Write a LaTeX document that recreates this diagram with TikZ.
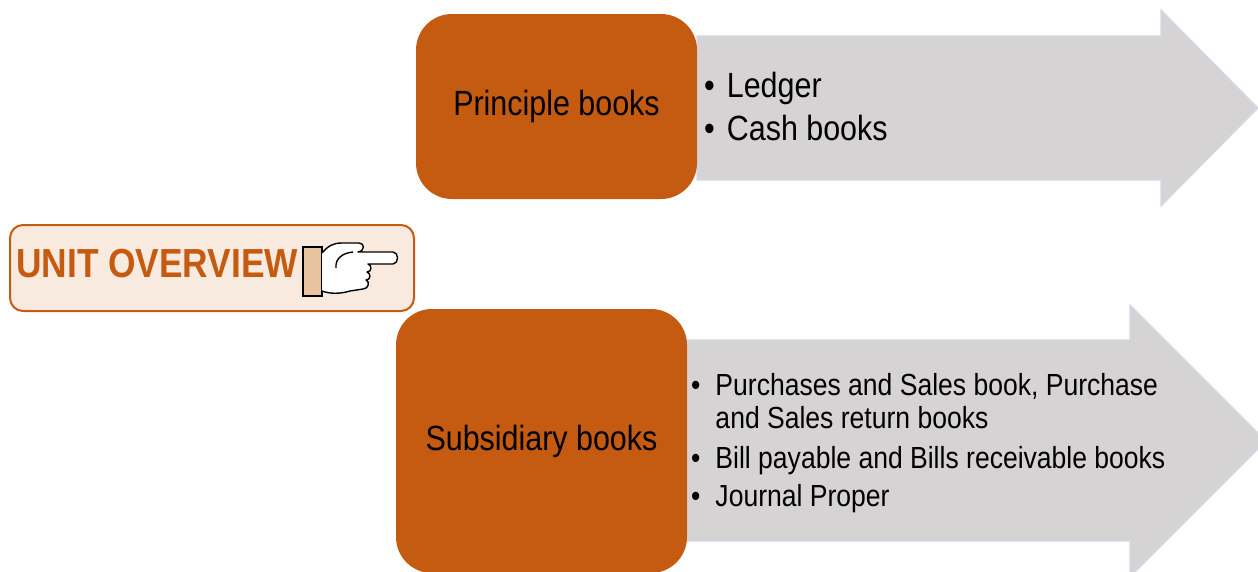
\documentclass[tikz,border=0pt]{standalone}
\usepackage{fontspec}
\setmainfont[FakeStretch=0.87]{Liberation Sans}
\usetikzlibrary{positioning}
\definecolor{rust}{HTML}{C55A11}
\definecolor{peach}{HTML}{F9EADF}
\definecolor{cuff}{HTML}{E8C3A0}
\definecolor{arrowgrey}{HTML}{D5D3D4}
\definecolor{arrowedge}{HTML}{D3D9EA}
\tikzset{
  bookbox/.style={fill=rust, rounded corners=36pt, inner sep=0pt,
    font=\fontsize{35}{42}\selectfont},
  bigarrow/.style={fill=arrowgrey, draw=arrowedge, line width=1.2pt},
  unitbox/.style={fill=peach, draw=rust, line width=2pt, rounded corners=13pt},
  listtext/.style={inner sep=0pt, align=left},
  handline/.style={draw=black, line width=1.4pt, line join=round}
}

\begin{document}
\begin{tikzpicture}[x=1pt,y=-1pt]
    \useasboundingbox (0,0) rectangle (1258,571);
    \clip (0,0) rectangle (1258,571);
    \draw[bigarrow] (697,36) -- (1161,36) -- (1161,10) -- (1258,108) -- (1161,206) -- (1161,180) -- (697,180) -- cycle;
    \draw[bigarrow] (687,340) -- (1130,340) -- (1130,305) -- (1266,441) -- (1130,577) -- (1130,541) -- (687,541) -- cycle;
    \node[bookbox, minimum width=281pt, minimum height=185pt] (principle) at (556.5,106.5) {Principle books};
    \node[bookbox, minimum width=291pt, minimum height=264pt] (subsidiary) at (541.5,441) {Subsidiary books};
    \node[listtext, anchor=base west, font=\fontsize{35}{43}\selectfont] (principlelist) at (704,97)
        {\begin{tabular}[t]{@{}l@{\hspace{12pt}}l@{}}
            • & Ledger\\
            • & Cash books
        \end{tabular}};
    \node[listtext, anchor=base west, font=\fontsize{30.5}{33}\selectfont] (subsidiarylist) at (691,395)
        {\begin{tabular}[t]{@{}l@{\hspace{15pt}}l@{}}
            • & Purchases and Sales book, Purchase\\
              & and Sales return books\\[7pt]
            • & Bill payable and Bills receivable books\\[5pt]
            • & Journal Proper
        \end{tabular}};
    \node[unitbox, anchor=north west, minimum width=404pt, minimum height=86pt] (unit) at (9,224) {};
    \node[anchor=base west, inner sep=0pt, text=rust, font=\fontsize{40.6}{44}\selectfont\bfseries] (unittitle) at (16,277) {UNIT OVERVIEW};
    \filldraw[fill=cuff, draw=black, line width=1.4pt] (303,247) rectangle (322,296);
    \draw[handline, fill=white] (322,253) .. controls (328,246) and (333,243) .. (342,243) -- (359,243)
        .. controls (365,243) and (365,251) .. (358,252) -- (393,252)
        .. controls (399,252) and (399,264) .. (393,264) -- (368,264)
        .. controls (372,265) and (372,272) .. (367,272)
        .. controls (371,273) and (371,280) .. (366,280)
        .. controls (370,281) and (369,289) .. (363,289) -- (350,291)
        .. controls (340,294) and (330,294) .. (322,291);
    \draw[handline] (353,252) .. controls (342,253) and (335,259) .. (336,268);
\end{tikzpicture}
\end{document}
